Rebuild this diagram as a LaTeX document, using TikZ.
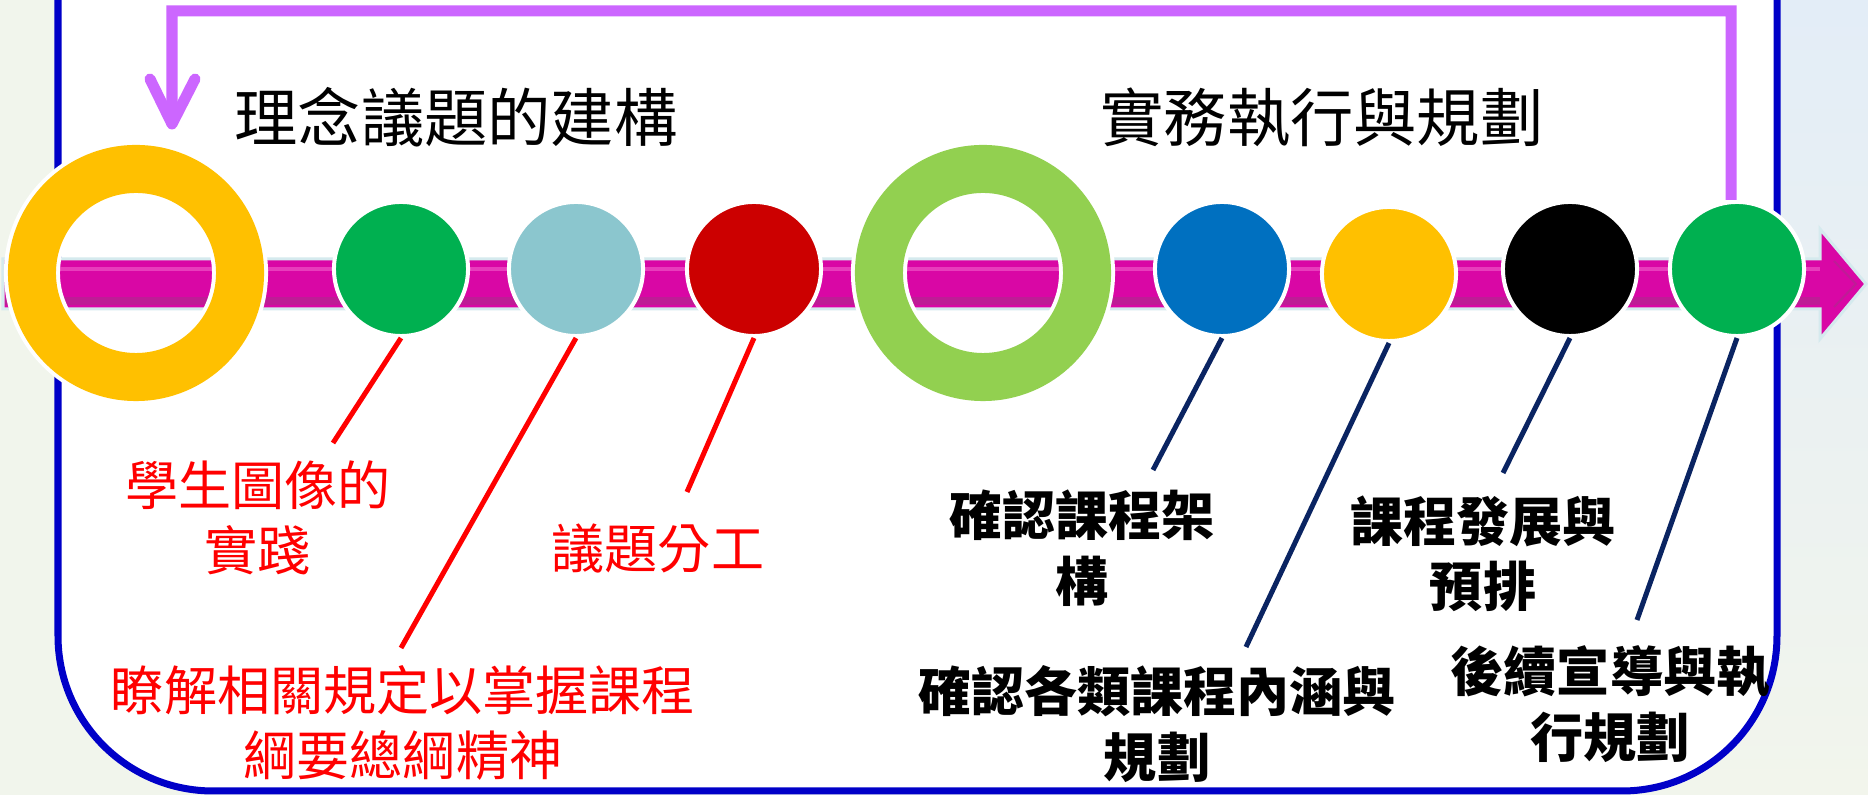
\documentclass[tikz,border=0pt]{standalone}
\usepackage{fontspec}
\newfontfamily\cjk{Noto Sans CJK TC}
\usetikzlibrary{calc}
\definecolor{framebl}{HTML}{0000C8}
\definecolor{bgl}{HTML}{F1F5EC}
\definecolor{bgrt}{HTML}{E3EDF7}
\definecolor{bgrb}{HTML}{F2F5EC}
\definecolor{magbar}{HTML}{D907A5}
\definecolor{maglight}{HTML}{E83DBC}
\definecolor{magdark}{HTML}{BE1C96}
\definecolor{barborder}{HTML}{D5EAEE}
\definecolor{cgreen}{HTML}{00B050}
\definecolor{cteal}{HTML}{8BC6CE}
\definecolor{cred}{HTML}{CC0000}
\definecolor{cblue}{HTML}{0070C0}
\definecolor{cyellow}{HTML}{FFC000}
\definecolor{cringgreen}{HTML}{92D050}
\definecolor{navy}{HTML}{0A2462}
\definecolor{fbpurple}{HTML}{CC66FF}
\definecolor{lblred}{HTML}{FF0000}
\begin{document}
\begin{tikzpicture}[x=0.01cm,y=-0.01cm,
  dot/.style={circle, draw=white, line width=0.04cm, minimum size=1.34cm, inner sep=0pt},
  ringnode/.style={circle, draw=white, double=#1, double distance=0.48cm, line width=0.04cm, minimum size=2.08cm, inner sep=0pt},
  redlbl/.style={align=center, inner sep=0pt, text=lblred, font=\cjk\fontsize{15.1}{18.5}\selectfont},
  blklbl/.style={align=center, inner sep=0pt, text=black, font=\cjk\bfseries\fontsize{15.1}{18.6}\selectfont},
  title/.style={inner sep=0pt, text=black, font=\cjk\fontsize{18}{22}\selectfont},
  redline/.style={draw=lblred, line width=0.05cm},
  navyline/.style={draw=navy, line width=0.05cm},
  fb/.style={draw=fbpurple, line width=0.11cm}]
\useasboundingbox (0,0) rectangle (1868,795);
\clip (0,0) rectangle (1868,795);
% background
\fill[bgl] (0,0) rectangle (1868,795);
\shade[top color=bgrt, bottom color=bgrb] (1700,0) rectangle (1868,795);
% frame
\fill[white, rounded corners=1.55cm] (58,-400) -- (58,791) -- (1777,791) -- (1777,-400) -- cycle;
\draw[framebl, line width=0.07cm, rounded corners=1.55cm] (58,-400) -- (58,791) -- (1777,791) -- (1777,-400);
% timeline bar
\filldraw[fill=magbar, draw=barborder, line width=0.03cm] (3,259) -- (1820,259) -- (1820,229) -- (1866,284) -- (1820,339) -- (1820,309) -- (3,309) -- cycle;
\fill[maglight] (5,267) rectangle (1820,271);
\fill[magdark] (5,297) rectangle (1820,305);
\draw[magdark, line width=0.02cm] (1834,261) -- (1856,284) -- (1834,307);
% circles
\node[ringnode=cyellow] (r1) at (136,273) {};
\node[ringnode=cringgreen] (r2) at (983,273) {};
\node[dot, fill=cgreen] (c1) at (401,269) {};
\node[dot, fill=cteal] (c2) at (576,269) {};
\node[dot, fill=cred] (c3) at (754,269) {};
\node[dot, fill=cblue] (c4) at (1222,269) {};
\node[dot, fill=cyellow] (c5) at (1389,274) {};
\node[dot, fill=black] (c6) at (1570,269) {};
\node[dot, fill=cgreen] (c7) at (1737,269) {};
% label end points
\coordinate (e1) at (333,443);
\coordinate (e2) at (401,648);
\coordinate (e3) at (687,492);
\coordinate (e4) at (1153,470);
\coordinate (e5) at (1246,647);
\coordinate (e6) at (1503,473);
\coordinate (e7) at (1637,620);
\draw[redline] (c1.south) -- (e1);
\draw[redline] (c2.south) -- (e2);
\draw[redline] (c3.south) -- (e3);
\draw[navyline] (c4.south) -- (e4);
\draw[navyline] (c5.south) -- (e5);
\draw[navyline] (c6.south) -- (e6);
\draw[navyline] (c7.south) -- (e7);
% feedback arrow
\coordinate (fbs) at ([xshift=-0.06cm]c7.north);
\coordinate (fbc1) at (1731,11);
\coordinate (fbc2) at (172,11);
\coordinate (fbtip) at (172,124);
\draw[fb] (fbs) -- (fbc1) -- (fbc2) -- (172,116);
\draw[fb, line cap=round, line join=round] (150,79) -- (fbtip) -- (195,79);
% titles
\node[title] (t1) at (456,117) {理念議題的建構};
\node[title] (t2) at (1322,117) {實務執行與規劃};
% labels
\node[redlbl] (l1) at (258,518) {學生圖像的\\實踐};
\node[redlbl] (l2) at (658,548) {議題分工};
\node[redlbl] (l3) at (403,723) {瞭解相關規定以掌握課程\\綱要總綱精神};
\node[blklbl] (l4) at (1082,548) {確認課程架\\構};
\node[blklbl] (l5) at (1157,724) {確認各類課程內涵與\\規劃};
\node[blklbl] (l6) at (1483,554) {課程發展與\\預排};
\node[blklbl] (l7) at (1610,704) {後續宣導與執\\行規劃};
\end{tikzpicture}
\end{document}
